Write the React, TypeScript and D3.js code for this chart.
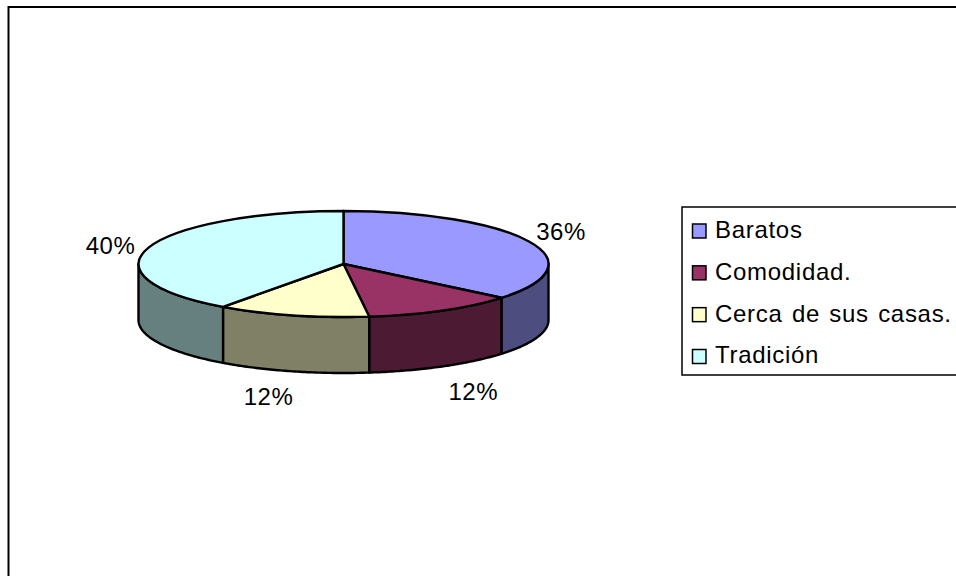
import { useEffect, useRef } from "react"
import * as d3 from "d3"

const categories = ["Baratos", "Comodidad.", "Cerca de sus casas.", "Tradición"]
const values = [36, 12, 12, 40]
const topColors = ["#9999ff", "#993366", "#ffffcc", "#ccffff"]
const sideColors = ["#4d4d80", "#4d1a33", "#808066", "#668080"]

const width = 956
const height = 576
const cx = 343.5
const cy = 264
const rx = 205
const ry = 53
const depth = 56
const font = "'Liberation Sans', Arial, sans-serif"

// nudges from the rim point of each slice to its label
const labelNudge = [
  [32, -10],
  [31, 25],
  [-24, 25],
  [-38, -2],
]

export default function App() {
  const ref = useRef<SVGSVGElement | null>(null)

  useEffect(() => {
    const svg = d3.select(ref.current)
    svg.selectAll("*").remove()

    svg.append("rect").attr("width", width).attr("height", height).attr("fill", "#fff")

    // frame runs off the right and bottom of the picture
    svg.append("rect")
      .attr("x", 8.5)
      .attr("y", 7)
      .attr("width", width + 20)
      .attr("height", height + 20)
      .attr("fill", "none")
      .attr("stroke", "#000")
      .attr("stroke-width", 2)

    const arcs = d3.pie<number>().sort(null)(values)

    const px = (a: number) => cx + rx * Math.sin(a)
    const py = (a: number) => cy - ry * Math.cos(a)

    // side walls, only the front half of the ellipse shows
    arcs.forEach((d, i) => {
      const a0 = Math.max(d.startAngle, Math.PI / 2)
      const a1 = Math.min(d.endAngle, (Math.PI * 3) / 2)
      if (a1 <= a0) return
      const angles = d3.range(0, 61).map(k => a0 + ((a1 - a0) * k) / 60)
      const line = d3.line<[number, number]>()
      const top: [number, number][] = angles.map(a => [px(a), py(a)])
      const bottom: [number, number][] = angles.slice().reverse().map(a => [px(a), py(a) + depth])
      svg.append("path")
        .attr("d", line([...top, ...bottom])! + "Z")
        .attr("fill", sideColors[i])
        .attr("stroke", "#000")
        .attr("stroke-width", 2.4)
        .attr("stroke-linejoin", "round")
    })

    // top face
    const arc = d3.arc<d3.PieArcDatum<number>>().innerRadius(0).outerRadius(rx)
    svg.append("g")
      .attr("transform", `translate(${cx},${cy}) scale(1,${ry / rx})`)
      .selectAll("path")
      .data(arcs)
      .enter()
      .append("path")
      .attr("d", d => arc(d))
      .attr("fill", (d, i) => topColors[i])
      .attr("stroke", "#000")
      .attr("stroke-width", 2.4)
      .attr("stroke-linejoin", "round")
      .attr("vector-effect", "non-scaling-stroke")

    // percent labels
    arcs.forEach((d, i) => {
      const mid = (d.startAngle + d.endAngle) / 2
      const front = Math.cos(mid) < 0 ? depth : 0
      svg.append("text")
        .attr("x", px(mid) + labelNudge[i][0])
        .attr("y", py(mid) + front + labelNudge[i][1])
        .attr("dy", "0.35em")
        .attr("text-anchor", "middle")
        .attr("font-family", font)
        .attr("font-size", 24)
        .attr("letter-spacing", 0.5)
        .attr("fill", "#000")
        .text(`${d.data}%`)
    })

    // legend
    const legendX = 682
    const y = d3.scalePoint<string>().domain(categories).range([231, 356.5])
    svg.append("rect")
      .attr("x", legendX)
      .attr("y", 207)
      .attr("width", width)
      .attr("height", 168)
      .attr("fill", "#fff")
      .attr("stroke", "#000")
      .attr("stroke-width", 1.5)

    const items = svg.append("g")
      .selectAll("g")
      .data(categories)
      .enter()
      .append("g")
      .attr("transform", d => `translate(${legendX},${y(d)})`)

    items.append("rect")
      .attr("x", 10.5)
      .attr("y", -7)
      .attr("width", 13.5)
      .attr("height", 14)
      .attr("fill", (d, i) => topColors[i])
      .attr("stroke", "#000")
      .attr("stroke-width", 1.5)

    items.append("text")
      .attr("x", 33)
      .attr("y", -1.5)
      .attr("dy", "0.35em")
      .attr("font-family", font)
      .attr("font-size", 24)
      .attr("letter-spacing", 0.7)
      .attr("word-spacing", 2)
      .attr("fill", "#000")
      .text(d => d)
  }, [])

  return (
    <svg
      ref={ref}
      width={width}
      height={height}
      style={{ position: "absolute", left: 0, top: 0, display: "block" }}
    />
  )
}
